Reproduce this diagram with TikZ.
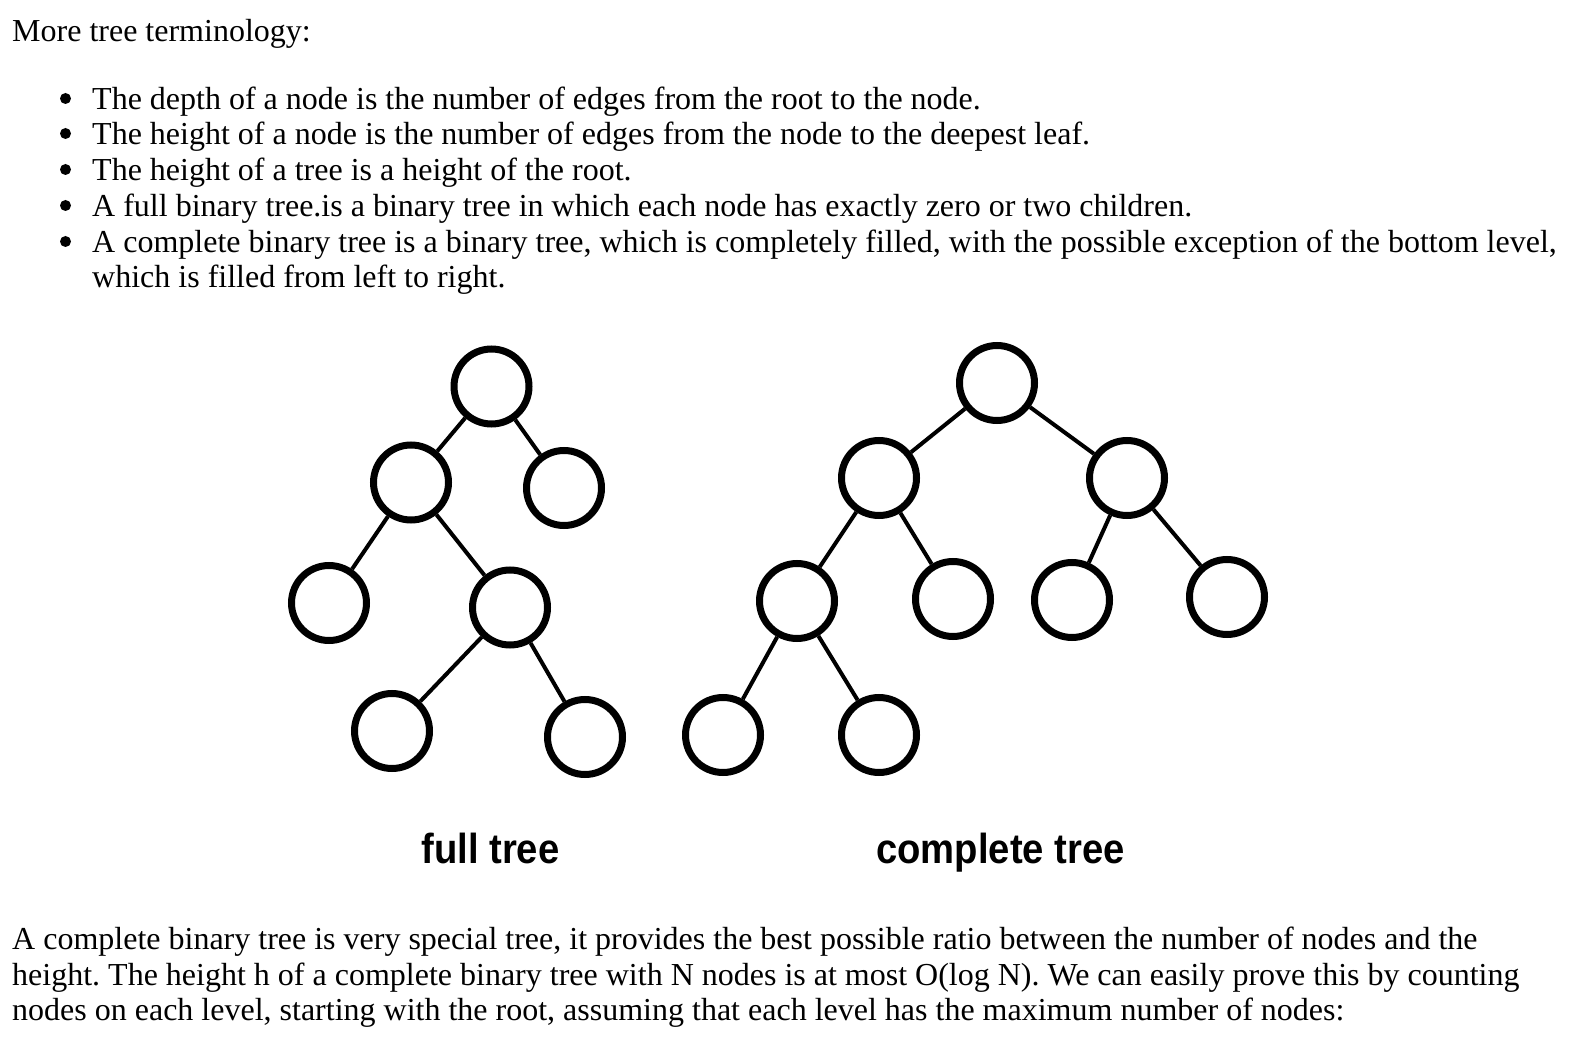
\documentclass[tikz,border=0pt]{standalone}
\usepackage{fontspec}
\setmainfont{Liberation Serif}
\newfontfamily\labfont{Liberation Sans}
\frenchspacing
\begin{document}
\begin{tikzpicture}[x=1pt,y=-1pt,
  txt/.style={anchor=base west,inner sep=0pt,font=\fontsize{32}{38}\selectfont},
  bul/.style={circle,fill=black,inner sep=0pt,minimum size=11pt},
  lab/.style={anchor=base,inner sep=0pt,font=\labfont\bfseries\fontsize{42}{48}\selectfont,xscale=0.91},
  tnode/.style={circle,draw,line width=7pt,minimum size=75pt,inner sep=0pt},
  tedge/.style={line width=4pt}]
\useasboundingbox (0,0) rectangle (1572,1040);
\fill[white] (0,0) rectangle (1572,1040);
% text
\node[txt] (t0) at (12,42) {More tree terminology:};
\foreach \y/\n in {98.5/b1,133.5/b2,169.5/b3,205.5/b4,241.5/b5}{
  \node[bul] (\n) at (65.5,\y) {};
}
\node[txt] (l1) at (92,110) {The depth of a node is the number of edges from the root to the node.};
\node[txt] (l2) at (92,145) {The height of a node is the number of edges from the node to the deepest leaf.};
\node[txt] (l3) at (92,181) {The height of a tree is a height of the root.};
\node[txt] (l4) at (92,217) {A full binary tree.is a binary tree in which each node has exactly zero or two children.};
\node[txt] (l5) at (92,253) {A complete binary tree is a binary tree, which is completely filled, with the possible exception of the bottom level,};
\node[txt] (l6) at (92,288) {which is filled from left to right.};
\node[txt] (p1) at (12,949) {A complete binary tree is very special tree, it provides the best possible ratio between the number of nodes and the};
\node[txt] (p2) at (12,985) {height. The height h of a complete binary tree with N nodes is at most O(log N). We can easily prove this by counting};
\node[txt] (p3) at (12,1020) {nodes on each level, starting with the root, assuming that each level has the maximum number of nodes:};
% full tree
\node[tnode] (fr) at (491.5,386.5) {};
\node[tnode] (fl) at (411,482.5) {};
\node[tnode] (fR) at (564,488) {};
\node[tnode] (fll) at (329,603) {};
\node[tnode] (flr) at (510,607.5) {};
\node[tnode] (flrl) at (392,731) {};
\node[tnode] (flrr) at (585,737) {};
\draw[tedge] (fr) -- (fl);
\draw[tedge] (fr) -- (fR);
\draw[tedge] (fl) -- (fll);
\draw[tedge] (fl) -- (flr);
\draw[tedge] (flr) -- (flrl);
\draw[tedge] (flr) -- (flrr);
% complete tree
\node[tnode] (cr) at (997,383) {};
\node[tnode] (cl) at (879,478) {};
\node[tnode] (cR) at (1127,478) {};
\node[tnode] (cll) at (797,601) {};
\node[tnode] (clr) at (953,599) {};
\node[tnode] (crl) at (1072,600) {};
\node[tnode] (crr) at (1227,597) {};
\node[tnode] (clll) at (723,735) {};
\node[tnode] (cllr) at (879,735) {};
\draw[tedge] (cr) -- (cl);
\draw[tedge] (cr) -- (cR);
\draw[tedge] (cl) -- (cll);
\draw[tedge] (cl) -- (clr);
\draw[tedge] (cR) -- (crl);
\draw[tedge] (cR) -- (crr);
\draw[tedge] (cll) -- (clll);
\draw[tedge] (cll) -- (cllr);
% labels
\node[lab] (lf) at (490.5,863) {full tree};
\node[lab] (lc) at (1000.5,863) {complete tree};
\end{tikzpicture}
\end{document}
